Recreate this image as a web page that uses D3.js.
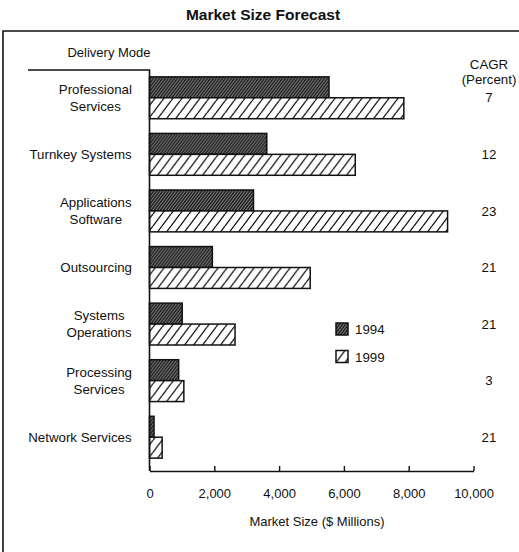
<!DOCTYPE html>
<html>
<head>
<meta charset="utf-8">
<script src="https://d3js.org/d3.v7.min.js"></script>
<style>
  body { margin: 0; background: #fff; }
  svg text { font-family: "Liberation Sans", Arial, Helvetica, sans-serif; fill: #111; }
</style>
</head>
<body>
<svg id="chart" width="519" height="552"></svg>
<script>
// data
var modes = ["Professional Services", "Turnkey Systems", "Applications Software",
             "Outsourcing", "Systems Operations", "Processing Services", "Network Services"];
var modeLines = [["Professional", "Services"], ["Turnkey Systems"], ["Applications", "Software"],
                 ["Outsourcing"], ["Systems", "Operations"], ["Processing", "Services"], ["Network Services"]];
var years = ["1994", "1999"];
var size1994 = [5540, 3620, 3210, 1940, 1010, 900, 140];
var size1999 = [7850, 6350, 9200, 4960, 2640, 1060, 390];
var cagr = [7, 12, 23, 21, 21, 3, 21];
var xTicks = [0, 2000, 4000, 6000, 8000, 10000];

var svg = d3.select("#chart");
var fmt = d3.format(",d");
var fs = "13.3px";

// patterns
var defs = svg.append("defs");
var dark = defs.append("pattern").attr("id", "dark")
    .attr("patternUnits", "userSpaceOnUse").attr("width", 3).attr("height", 4);
dark.append("rect").attr("width", 3).attr("height", 4).attr("fill", "#262626");
[-3, 0, 3].forEach(function(o) {
  dark.append("line").attr("x1", o).attr("y1", 4).attr("x2", o + 3).attr("y2", 0)
    .attr("stroke", "#8c8c8c").attr("stroke-width", 0.9);
});
var light = defs.append("pattern").attr("id", "light")
    .attr("patternUnits", "userSpaceOnUse").attr("width", 9).attr("height", 12);
light.append("rect").attr("width", 9).attr("height", 12).attr("fill", "#fff");
[-9, 0, 9].forEach(function(o) {
  light.append("line").attr("x1", o).attr("y1", 12).attr("x2", o + 9).attr("y2", 0)
    .attr("stroke", "#111").attr("stroke-width", 1.3);
});
var fills = { "1994": "url(#dark)", "1999": "url(#light)" };

// scales
var x = d3.scaleLinear().domain([0, 10000]).range([149.5, 473.5]);
var y = d3.scaleBand().domain(modes).range([69.5, 465.5]).paddingInner(0.26).paddingOuter(0.13);
var y2 = d3.scaleBand().domain(years).range([0, y.bandwidth()]);

// frame
svg.append("path").attr("d", "M3,552V31H519").attr("fill", "none").attr("stroke", "#111").attr("stroke-width", 1.6);

// title
svg.append("text").attr("x", 263).attr("y", 20).attr("text-anchor", "middle")
  .style("font-size", "15.5px").style("font-weight", "bold").text("Market Size Forecast");

svg.append("text").attr("x", 109).attr("y", 57).attr("text-anchor", "middle")
  .style("font-size", "13px").text("Delivery Mode");

svg.append("text").attr("x", 489).attr("y", 69).attr("text-anchor", "middle")
  .style("font-size", fs).text("CAGR");
svg.append("text").attr("x", 489).attr("y", 84).attr("text-anchor", "middle")
  .style("font-size", fs).text("(Percent)");

// bars
var rows = modes.map(function(m, i) {
  return { mode: m, lines: modeLines[i], cagr: cagr[i],
           vals: [{ year: "1994", v: size1994[i] }, { year: "1999", v: size1999[i] }] };
});

var grp = svg.selectAll(".row").data(rows).enter().append("g")
  .attr("class", "row")
  .attr("transform", function(d) { return "translate(0," + y(d.mode) + ")"; });

grp.selectAll("rect").data(function(d) { return d.vals; }).enter().append("rect")
  .attr("x", x(0))
  .attr("y", function(d) { return y2(d.year); })
  .attr("width", function(d) { return x(d.v) - x(0); })
  .attr("height", y2.bandwidth())
  .attr("fill", function(d) { return fills[d.year]; })
  .attr("stroke", "#111").attr("stroke-width", 1.5);

// category labels, right edge near 132
grp.each(function(d) {
  var g = d3.select(this);
  var t = g.append("g");
  var n = d.lines.length;
  d.lines.forEach(function(s, k) {
    t.append("text").attr("x", 0)
      .attr("y", y.bandwidth() / 2 + (k - (n - 1) / 2) * 17.5)
      .attr("dy", "0.35em").attr("text-anchor", "middle")
      .style("font-size", fs).text(s);
  });
  var bb = t.node().getBBox();
  t.attr("transform", "translate(" + (132 - (bb.x + bb.width)) + ",0)");
});

grp.append("text").attr("x", 489).attr("y", y.bandwidth() / 2).attr("dy", "0.35em")
  .attr("text-anchor", "middle").style("font-size", fs)
  .text(function(d) { return d.cagr; });

// label box + y axis line
svg.append("path").attr("d", "M28,70H" + x(0) + "V471")
  .attr("fill", "none").attr("stroke", "#111").attr("stroke-width", 1.6);

// x axis
var xAxis = d3.axisBottom(x).tickValues(xTicks).tickSize(-5).tickSizeOuter(0)
  .tickFormat(function(d) { return fmt(d); });
var ax = svg.append("g").attr("transform", "translate(0,471)").call(xAxis);
ax.select(".domain").attr("stroke", "#111").attr("stroke-width", 1.6);
ax.selectAll(".tick line").attr("stroke", "#111").attr("stroke-width", 1.4);
ax.selectAll(".tick text").attr("y", 22).attr("dy", "0.35em")
  .style("font-size", "13px").style("font-family", "Liberation Sans, Arial, sans-serif").attr("fill", "#111");

svg.append("text").attr("x", 317).attr("y", 521).attr("dy", "0.35em").attr("text-anchor", "middle")
  .style("font-size", "13px").text("Market Size ($ Millions)");

// legend
var leg = svg.selectAll(".leg").data(years).enter().append("g")
  .attr("class", "leg")
  .attr("transform", function(d, i) { return "translate(336," + (323 + i * 27.5) + ")"; });
leg.append("rect").attr("width", 12).attr("height", 12)
  .attr("fill", function(d) { return fills[d]; }).attr("stroke", "#111").attr("stroke-width", 1.5);
leg.append("text").attr("x", 19).attr("y", 6.5).attr("dy", "0.35em")
  .style("font-size", fs).text(function(d) { return d; });
</script>
</body>
</html>
